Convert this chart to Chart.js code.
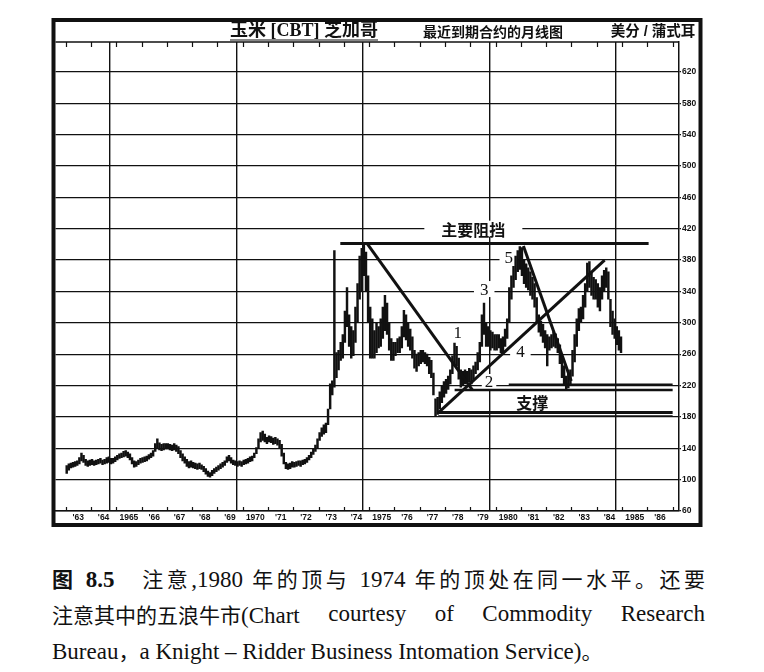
<!DOCTYPE html>
<html>
<head>
<meta charset="utf-8">
<script src="https://cdn.jsdelivr.net/npm/chart.js@4.4.0/dist/chart.umd.min.js"></script>
<style>
  html, body { margin: 0; padding: 0; background: #fff; }
  #wrap { position: relative; width: 764px; height: 672px; overflow: hidden; }
  #c { position: absolute; left: 0; top: 0; }
  .cap {
    position: absolute; left: 52px; width: 653px; height: 36px; line-height: 36px;
    font-family: 'Liberation Serif', 'Noto Sans CJK SC', serif; font-size: 23px; color: #111;
    white-space: nowrap;
  }
  .zh { font-family: 'Noto Sans CJK SC', sans-serif; font-size: 21px; }
  .just { text-align: justify; text-align-last: justify; }
  .spread { display: flex; justify-content: space-between; }
  .cap b { font-weight: 700; }
</style>
</head>
<body>
<div id="wrap">
  <canvas id="c" width="764" height="540"></canvas>
  <div class="cap just" style="top:560px"><b><span class="zh">图</span> 8.5</b>&nbsp;&nbsp; <span class="zh">注意</span>,1980 <span class="zh">年的顶与</span> 1974 <span class="zh">年的顶处在同一水平。还要</span></div>
  <div class="cap spread" style="top:596px"><span><span class="zh">注意其中的五浪牛市</span>(Chart</span><span>courtesy</span><span>of</span><span>Commodity</span><span>Research</span></div>
  <div class="cap" style="top:632px">Bureau<span class="zh">，</span>a Knight – Ridder Business Intomation Service)<span class="zh">。</span></div>
</div>
<script>
// ── DATA ─────────────────────────────────────────────────────
const START_YEAR = 1963;

const xLabels = ["'63", "'64", '1965', "'66", "'67", "'68", "'69", '1970', "'71", "'72", "'73", "'74",
                 '1975', "'76", "'77", "'78", "'79", '1980', "'81", "'82", "'83", "'84", '1985', "'86"];
const yTicks = [60, 100, 140, 180, 220, 260, 300, 340, 380, 420, 460, 500, 540, 580, 620];

// monthly lows / highs, cents per bushel, Jan 1963 .. Dec 1984
const lows = [
  108,112,115,116,117,118,120,124,122,118,117,118,  // 1963
  119,118,119,120,121,119,120,121,122,120,121,123,  // 1964
  125,127,128,129,130,128,125,120,116,117,119,121,  // 1965
  122,123,124,126,128,130,136,140,138,137,138,139,  // 1966
  139,138,137,138,136,133,128,124,121,117,115,116,  // 1967
  115,114,113,114,113,110,107,104,103,105,108,110,  // 1968
  112,114,116,118,122,124,121,119,118,117,118,117,  // 1969
  119,120,121,123,124,128,133,140,148,150,148,146,  // 1970
  148,147,145,146,144,140,130,120,114,113,114,116,  // 1971
  116,117,118,117,119,120,122,125,128,132,136,140,  // 1972
  150,155,158,160,170,190,208,218,230,240,252,255,  // 1973
  275,295,270,255,258,275,300,330,340,360,340,300,  // 1974
  255,255,255,262,268,270,280,290,285,265,252,252,  // 1975
  258,262,262,268,282,278,270,265,255,242,238,245,  // 1976
  248,250,248,245,235,230,208,181,183,190,198,205,  // 1977
  210,215,222,235,245,245,228,218,220,222,225,225,  // 1978
  222,228,235,240,250,270,285,270,270,265,268,265,  // 1979
  265,268,262,262,270,280,300,330,345,355,365,368,  // 1980
  360,350,345,342,335,330,320,300,288,283,275,268,  // 1981
  245,265,268,270,268,262,248,230,220,215,217,222,  // 1982
  232,250,270,290,300,305,320,340,345,335,330,330,  // 1983
  320,315,330,340,345,330,295,285,280,272,265,262   // 1984
];
const highs = [
  118,120,121,122,123,124,128,134,131,126,124,125,  // 1963
  126,124,125,126,127,125,126,128,129,127,127,129,  // 1964
  131,133,134,136,137,135,133,128,124,123,125,127,  // 1965
  128,129,130,132,134,137,146,152,147,145,146,146,  // 1966
  146,145,144,146,144,142,137,133,129,126,123,124,  // 1967
  122,121,120,121,119,117,114,111,109,112,114,116,  // 1968
  118,120,122,124,129,131,128,125,124,123,124,123,  // 1969
  125,126,127,129,130,134,141,152,160,162,158,154,  // 1970
  156,155,153,154,152,150,145,134,122,120,121,123,  // 1971
  122,123,124,124,125,126,128,131,135,140,144,152,  // 1972
  160,166,170,172,190,222,226,392,262,265,275,285,  // 1973
  315,345,310,295,290,320,350,385,395,401,390,360,  // 1974
  320,305,290,300,295,305,320,335,325,300,280,275,  // 1975
  275,280,282,295,316,310,300,292,282,265,260,262,  // 1976
  265,265,262,260,256,252,236,203,205,212,220,225,  // 1977
  228,232,240,258,274,270,255,240,238,240,238,242,  // 1978
  240,245,250,262,275,310,325,300,295,290,288,285,  // 1979
  285,285,280,282,292,305,345,360,372,385,392,397,  // 1980
  396,380,375,370,365,358,350,332,310,302,298,290,  // 1981
  285,282,285,288,286,280,272,258,245,232,235,240,  // 1982
  265,285,305,318,320,335,350,376,378,365,358,355,  // 1983
  350,345,360,367,370,365,330,315,305,295,290,282   // 1984
];

// drawn trend / resistance / support lines: [x1, y1, x2, y2, width]
const resistanceLine = [1973.86, 401, 1986.05, 401, 3];
const trendLines = [
  [1974.90, 401.8, 1979.08, 214.3, 3],
  [1977.73, 185.0, 1984.31, 380.0, 3],
  [1981.10, 398.0, 1982.99, 225.8, 3]
];
const supportLines = [
  [1980.52, 221.6, 1987, 221.6, 1.5],
  [1978.38, 214.3, 1987, 214.3, 2.5],
  [1977.73, 185.6, 1987, 185.6, 3],
  [1977.73, 181.2, 1987, 181.2, 1.2]
];

// chart annotations: [text, x(year), y(cents), font, side padding]
const notes = [
  ['主要阻挡', 1979.12, 420, "bold 16px 'Noto Sans CJK SC', sans-serif", 17],
  ['支撑', 1981.45, 199, "bold 16px 'Noto Sans CJK SC', sans-serif", 2],
  ['1', 1978.50, 287, "17px 'Liberation Serif', serif", 3],
  ['2', 1979.74, 224.5, "17px 'Liberation Serif', serif", 3],
  ['3', 1979.55, 343, "17px 'Liberation Serif', serif", 6],
  ['4', 1980.98, 262.8, "17px 'Liberation Serif', serif", 6],
  ['5', 1980.52, 382.7, "17px 'Liberation Serif', serif", 5]
];

const INK = '#111';
const NUM_FONT = "'Liberation Sans Narrow', 'Liberation Sans', sans-serif";

// ── BUILD DATASETS ───────────────────────────────────────────
const bars = lows.map((lo, i) => ({ x: START_YEAR + (i + 0.5) / 12, y: [lo, highs[i]] }));

function lineSet(l) {
  return {
    type: 'line',
    data: [{ x: l[0], y: l[1] }, { x: l[2], y: l[3] }],
    borderColor: INK,
    borderWidth: l[4],
    pointRadius: 0,
    order: 0
  };
}

const xTickValues = [];
for (let i = 0; i < xLabels.length; i++) {
  xTickValues.push(START_YEAR + i, START_YEAR + i + 0.5);
}
xTickValues.push(START_YEAR + xLabels.length);

function isFiveYear(v) {
  return Number.isInteger(v) && v % 5 === 0;
}

// ── PLUGIN: frame, titles, notes ─────────────────────────────
const decor = {
  id: 'decor',
  beforeDatasetsDraw(chart) {
    const { ctx, scales: { x, y } } = chart;
    ctx.save();
    ctx.textAlign = 'center';
    ctx.textBaseline = 'middle';
    notes.forEach(n => {
      ctx.font = n[3];
      const px = x.getPixelForValue(n[1]);
      const py = y.getPixelForValue(n[2]);
      const w = ctx.measureText(n[0]).width;
      ctx.fillStyle = '#fff';
      ctx.fillRect(px - w / 2 - n[4], py - 8, w + n[4] * 2, 16);
      ctx.fillStyle = INK;
      ctx.fillText(n[0], px, py + 1);
    });
    ctx.restore();
  },
  afterDraw(chart) {
    const { ctx, chartArea: a, scales: { x } } = chart;
    ctx.save();
    ctx.strokeStyle = INK;

    // top border of plot
    ctx.lineWidth = 1.5;
    ctx.beginPath();
    ctx.moveTo(a.left, a.top); ctx.lineTo(a.right, a.top);
    ctx.stroke();

    // small year ticks top and bottom
    ctx.lineWidth = 1.2;
    for (let yr = START_YEAR; yr <= START_YEAR + xLabels.length; yr++) {
      const px = Math.round(x.getPixelForValue(yr)) + 0.5;
      ctx.beginPath();
      ctx.moveTo(px, a.top); ctx.lineTo(px, a.top + 5);
      ctx.moveTo(px, a.bottom); ctx.lineTo(px, a.bottom - 4);
      ctx.stroke();
    }

    // outer frame
    ctx.lineWidth = 4;
    ctx.strokeRect(53.5, 20, 647, 505);

    // titles
    ctx.fillStyle = INK;
    ctx.textBaseline = 'middle';
    ctx.textAlign = 'center';
    ctx.font = "bold 18px 'Liberation Serif', 'Noto Sans CJK SC', serif";
    ctx.fillText('玉米 [CBT] 芝加哥', 304, 31);
    const tw = ctx.measureText('玉米 [CBT] 芝加哥').width;
    ctx.lineWidth = 1.2;
    ctx.beginPath();
    ctx.moveTo(304 - tw / 2, 40); ctx.lineTo(304 + tw / 2, 40);
    ctx.stroke();
    ctx.font = "bold 14px 'Noto Sans CJK SC', sans-serif";
    ctx.fillText('最近到期合约的月线图', 493, 32);
    ctx.font = "bold 14.5px 'Liberation Sans', 'Noto Sans CJK SC', sans-serif";
    ctx.fillText('美分 / 蒲式耳', 653, 32);
    ctx.restore();
  }
};

// ── CHART ────────────────────────────────────────────────────
new Chart(document.getElementById('c'), {
  type: 'bar',
  data: {
    datasets: [
      {
        type: 'bar',
        data: bars,
        backgroundColor: INK,
        barThickness: 1.8,
        order: 1
      },
      lineSet(resistanceLine),
      ...trendLines.map(lineSet),
      ...supportLines.map(lineSet)
    ]
  },
  options: {
    responsive: false,
    animation: false,
    devicePixelRatio: 1,
    events: [],
    layout: { padding: { left: 55.5, top: 42, right: 0, bottom: 0 } },
    plugins: { legend: { display: false }, tooltip: { enabled: false } },
    scales: {
      x: {
        type: 'linear',
        min: 1962.85,
        max: 1987,
        afterBuildTicks: s => { s.ticks = xTickValues.map(v => ({ value: v })); },
        afterFit: s => { s.height = 29; },
        grid: {
          drawTicks: false,
          color: c => (c.tick && isFiveYear(c.tick.value)) ? INK : 'rgba(0,0,0,0)',
          lineWidth: 1.4
        },
        border: { display: true, color: INK, width: 1.5 },
        ticks: {
          autoSkip: false,
          maxRotation: 0,
          padding: 2,
          color: INK,
          font: { family: NUM_FONT, size: 8.5, weight: 'bold' },
          callback: v => Number.isInteger(v) ? '' : (xLabels[Math.floor(v) - START_YEAR] || '')
        }
      },
      y: {
        type: 'linear',
        position: 'right',
        min: 60,
        max: 658,
        afterBuildTicks: s => { s.ticks = yTicks.map(v => ({ value: v })); },
        afterFit: s => { s.width = 85; },
        grid: { color: INK, lineWidth: 1.2, tickLength: 2 },
        border: { display: true, color: INK, width: 1.5 },
        ticks: {
          padding: 1,
          color: INK,
          font: { family: NUM_FONT, size: 8.5, weight: 'bold' }
        }
      }
    }
  },
  plugins: [decor]
});
</script>
</body>
</html>
